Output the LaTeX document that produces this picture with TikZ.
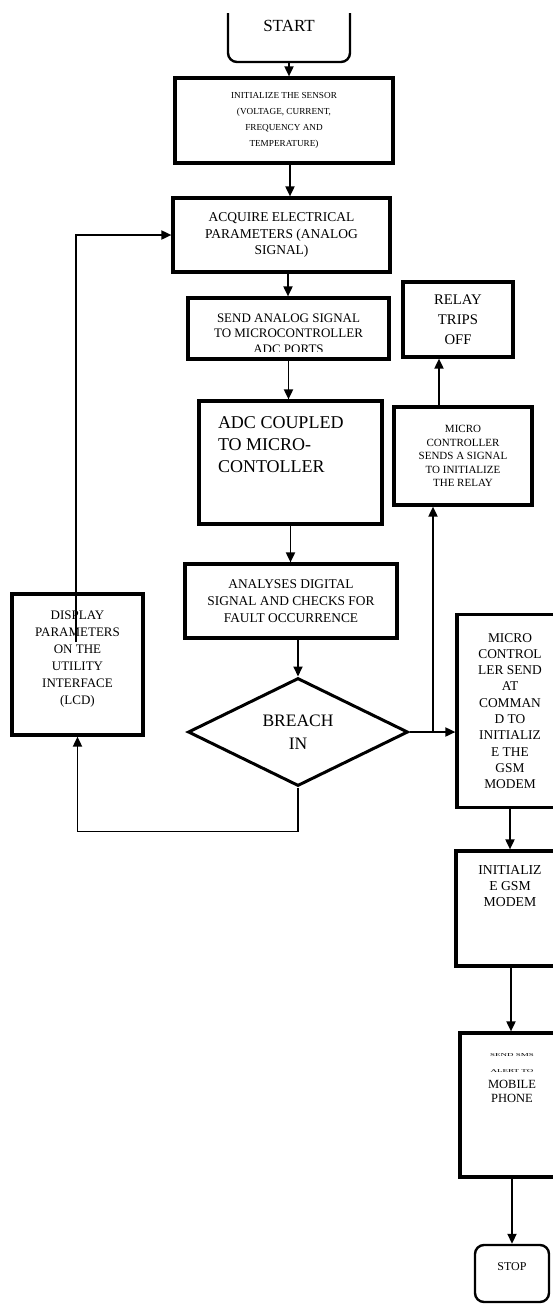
\documentclass[tikz,border=0pt]{standalone}
\usepackage{fontspec}
\setmainfont{Liberation Serif}
\usepackage{graphicx}
\usetikzlibrary{arrows.meta}
\usetikzlibrary{shapes.geometric}
\newcommand{\fs}[2]{\fontsize{#1}{#2}\selectfont}
\newcommand{\squash}[1]{\scalebox{1}[0.5]{\fs{9}{10}#1}}
\begin{document}
\begin{tikzpicture}[x=1pt,y=-1pt,
  blk/.style={draw, line width=3.2pt, inner sep=0pt, align=center},
  term/.style={draw, line width=2.4pt, rounded corners=9pt, inner sep=0pt},
  arr/.style={line width=1.8pt, -{Triangle[length=10pt,width=9pt]}}]
\useasboundingbox (0,0) rectangle (553,1304);
\begin{scope}
\clip (0,13) rectangle (553,1304);
\node[term, minimum width=122pt, minimum height=72pt, font=\fs{17}{20}] (start) at (289,26) {START};
\end{scope}
\node[blk, minimum width=218pt, minimum height=85pt, font=\fs{9.2}{16}] (init) at (284,120.5) {INITIALIZE THE SENSOR\\(VOLTAGE, CURRENT,\\FREQUENCY AND\\TEMPERATURE)};
\node[blk, minimum width=217pt, minimum height=74pt, font=\fs{13.5}{16.5}] (acquire) at (281.5,235) {ACQUIRE ELECTRICAL\\PARAMETERS (ANALOG\\SIGNAL)};
\node[blk, minimum width=201pt, minimum height=61pt] (send) at (288.5,328.5) {};
\begin{scope}
\clip (send.north west) rectangle ([yshift=9.5pt]send.south east);
\node[align=center, inner sep=0pt, font=\fs{13}{15.5}] (sendtxt) at (288.5,333.5) {SEND ANALOG SIGNAL\\TO MICROCONTROLLER\\ADC PORTS};
\end{scope}
\node[blk, minimum width=183pt, minimum height=123pt, font=\fs{18}{22}] (adc) at (290.5,462.5) {\parbox[c][91pt][t]{145pt}{\raggedright ADC COUPLED\\TO MICRO-\\CONTOLLER}};
\node[blk, minimum width=212pt, minimum height=74pt, font=\fs{13.4}{17}] (analyses) at (291,601) {ANALYSES DIGITAL\\SIGNAL AND CHECKS FOR\\FAULT OCCURRENCE};
\node[blk, minimum width=131pt, minimum height=141pt, font=\fs{13}{17}] (disp) at (77.5,664.5) {\parbox[c][108pt][t]{125pt}{\centering DISPLAY\\PARAMETERS\\ON THE\\UTILITY\\INTERFACE\\(LCD)}};
\node[draw, diamond, line width=3pt, minimum width=220pt, minimum height=108pt, inner sep=0pt, aspect=2.04, align=center, font=\fs{17.5}{23}] (breach) at (298,732) {BREACH\\IN};
\node[blk, minimum width=110pt, minimum height=75pt, font=\fs{14.7}{20}] (relay) at (458,319.5) {RELAY\\TRIPS\\OFF};
\node[blk, minimum width=138pt, minimum height=98pt, font=\fs{11}{13.5}] (mcsig) at (463,456) {MICRO\\CONTROLLER\\SENDS A SIGNAL\\TO INITIALIZE\\THE RELAY};
\node[blk, minimum width=106pt, minimum height=193pt, font=\fs{13.4}{16.3}] (mcsend) at (510,711) {MICRO\\CONTROL\\LER SEND\\AT\\COMMAN\\D TO\\INITIALIZ\\E THE\\GSM\\MODEM};
\node[blk, minimum width=108pt, minimum height=115pt, font=\fs{13.7}{16}] (gsm) at (510,908.5) {\parbox[c][86pt][t]{100pt}{\centering INITIALIZ\\E GSM\\MODEM}};
\node[blk, minimum width=104pt, minimum height=144pt, font=\fs{12.5}{14}] (sms) at (512,1105) {\parbox[c][103pt][t]{96pt}{\centering \squash{SEND SMS}\\[2.3pt]\squash{ALERT TO}\\[2pt]MOBILE\\PHONE}};
\node[term, minimum width=74pt, minimum height=57pt, font=\fs{12}{14}] (stop) at (512,1273.5) {\parbox[c][21pt][t]{40pt}{\centering STOP}};
\coordinate (dispin) at (76,642);
\coordinate (br) at (433,732);
\draw[arr] (start.south) -- (start.south |- init.north);
\draw[arr] ([xshift=6pt]init.south) -- ([xshift=6pt]init.south |- acquire.north);
\draw[arr] ([xshift=6.5pt]acquire.south) -- ([xshift=6.5pt]acquire.south |- send.north);
\draw[arr] (send.south) -- (send.south |- adc.north);
\draw[arr] (adc.south) -- (adc.south |- analyses.north);
\draw[arr] (breach.north |- analyses.south) -- (breach.north);
\draw[arr] (breach.south) -- ++(0,44) -| (disp.south);
\draw[arr] (dispin) |- (acquire.west);
\draw[arr] (breach.east) -- (breach.east -| mcsend.west);
\draw[arr] (br) -- (br |- mcsig.south);
\draw[arr] ([xshift=-24pt]mcsig.north) -- ([xshift=-24pt]mcsig.north |- relay.south);
\draw[arr] (mcsend.south) -- (gsm.north);
\draw[arr] ([xshift=1pt]gsm.south) -- ([xshift=1pt]gsm.south |- sms.north);
\draw[arr] (sms.south) -- (stop.north);
\end{tikzpicture}
\end{document}
